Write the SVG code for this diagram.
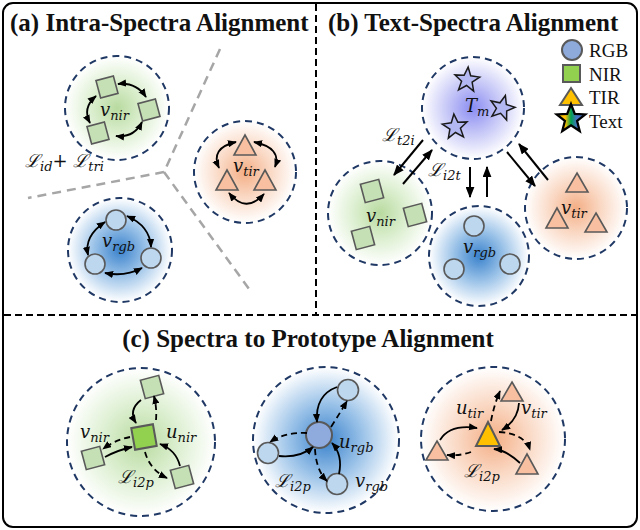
<svg xmlns="http://www.w3.org/2000/svg" width="640" height="530" viewBox="0 0 640 530">
<defs>
<style>
.title{font-family:"Liberation Serif","Times New Roman",serif;font-weight:bold;font-size:25px;fill:#111}
.leg{font-family:"Liberation Serif","Times New Roman",serif;font-size:19px;fill:#111}
.m{font-family:"DejaVu Serif","Liberation Serif",serif;font-style:italic;font-size:18px;fill:#111}
.s{font-size:13px}
.ring{stroke:#1f3864;stroke-width:2;stroke-dasharray:7,5}
.sq{fill:#c5e0b4;stroke:#595959;stroke-width:1.6}
.tri{fill:#f8c0a0;stroke:#595959;stroke-width:1.6;stroke-linejoin:miter}
.cir{fill:#bdd7ee;stroke:#595959;stroke-width:1.6}
.star{fill:#b4b8f2;stroke:#1a1a1a;stroke-width:1.5;stroke-linejoin:miter}
.arc{fill:none;stroke:#000;stroke-width:1.8;marker-start:url(#ah);marker-end:url(#ah)}
.ar{fill:none;stroke:#000;stroke-width:2;marker-end:url(#ah2)}
.cs{fill:none;stroke:#000;stroke-width:1.8;marker-end:url(#ah)}
.cd{fill:none;stroke:#000;stroke-width:1.8;stroke-dasharray:6,4;marker-end:url(#ah)}
.div{stroke:#000;stroke-width:2;stroke-dasharray:7,4;fill:none}
.gray{stroke:#a6a6a6;stroke-width:2.5;stroke-dasharray:9,6;fill:none}
</style>
<marker id="ah" viewBox="0 0 10 8" refX="9" refY="4" markerWidth="9" markerHeight="7.5" markerUnits="userSpaceOnUse" orient="auto-start-reverse"><path d="M0,0 L10,4 L0,8 z" fill="#000"/></marker>
<marker id="ah2" viewBox="0 0 10 8" refX="9" refY="4" markerWidth="11" markerHeight="9" markerUnits="userSpaceOnUse" orient="auto"><path d="M0,0 L10,4 L0,8 z" fill="#000"/></marker>
<radialGradient id="gG"><stop offset="0" stop-color="#b8da9f"/><stop offset="0.5" stop-color="#dcefd0"/><stop offset="1" stop-color="#ffffff"/></radialGradient>
<radialGradient id="gO"><stop offset="0" stop-color="#f4ae85"/><stop offset="0.5" stop-color="#fad9c5"/><stop offset="1" stop-color="#ffffff"/></radialGradient>
<radialGradient id="gB"><stop offset="0" stop-color="#3a82cc"/><stop offset="0.5" stop-color="#9ac2e8"/><stop offset="1" stop-color="#ffffff"/></radialGradient>
<radialGradient id="gP"><stop offset="0" stop-color="#8a8cf2"/><stop offset="0.5" stop-color="#c6c7f7"/><stop offset="1" stop-color="#ffffff"/></radialGradient>
<linearGradient id="gStar" x1="0" y1="0" x2="1" y2="0"><stop offset="0.3" stop-color="#ffc000"/><stop offset="0.5" stop-color="#00a050"/><stop offset="0.7" stop-color="#4472c4"/></linearGradient>
<path id="starShape" d="M0,-13 L3.3,-4.5 L12.4,-4 L5.3,1.7 L7.6,10.5 L0,5.5 L-7.6,10.5 L-5.3,1.7 L-12.4,-4 L-3.3,-4.5 z"/>
</defs>

<rect x="3" y="3" width="634" height="524" rx="10" fill="#fff" stroke="#000" stroke-width="2"/>
<g id="dividers">
<line class="div" x1="316" y1="4" x2="316" y2="315"/>
<line class="div" x1="4" y1="315" x2="636" y2="315"/>
</g>

<text class="title" x="10" y="31">(a) Intra-Spectra Alignment</text>
<text class="title" x="328" y="31">(b) Text-Spectra Alignment</text>
<text class="title" x="308" y="347" text-anchor="middle">(c) Spectra to Prototype Alignment</text>

<!-- Panel (a) -->
<g id="a-dividers">
<path class="gray" d="M220,49 L164,172 L28,198 M164,172 L252,293"/>
</g>
<g id="a-nir">
<circle class="ring" cx="117" cy="108" r="52" fill="url(#gG)"/>
<rect class="sq" x="-9" y="-9" width="18" height="18" transform="translate(107,87) rotate(-15)"/>
<rect class="sq" x="-9" y="-9" width="18" height="18" transform="translate(149,110) rotate(-15)"/>
<rect class="sq" x="-9" y="-9" width="18" height="18" transform="translate(98,133) rotate(-15)"/>
<text class="m" x="100" y="116">v<tspan class="s" dy="4">nir</tspan></text>
</g>
<g id="a-tir">
<circle class="ring" cx="245" cy="172" r="51" fill="url(#gO)"/>
<polygon class="tri" points="245,135 256,155 234,155"/>
<polygon class="tri" points="227,170 238,190 216,190"/>
<polygon class="tri" points="265,170 276,190 254,190"/>
<text class="m" x="233" y="172">v<tspan class="s" dy="4">tir</tspan></text>
</g>
<g id="a-rgb">
<circle class="ring" cx="120" cy="250" r="52" fill="url(#gB)"/>
<circle class="cir" cx="116" cy="220" r="10"/>
<circle class="cir" cx="95" cy="264" r="10"/>
<circle class="cir" cx="151" cy="258" r="10"/>
<text class="m" x="102" y="247">v<tspan class="s" dy="4">rgb</tspan></text>
</g>
<g id="a-loss">
<text class="m" x="25" y="167">ℒ<tspan class="s" dy="4">id</tspan><tspan dy="-4">+ ℒ</tspan><tspan class="s" dy="4">tri</tspan></text>
</g>
<g id="a-connectors">
<path class="arc" d="M118,84 Q136,82 146,97"/>
<path class="arc" d="M142,122 Q134,138 116,136"/>
<path class="arc" d="M90,123 Q82,108 96,96"/>
<path class="arc" d="M236,142 Q210,148 219,168"/>
<path class="arc" d="M254,142 Q282,148 275,167"/>
<path class="arc" d="M229,193 Q246,214 264,194"/>
<path class="arc" d="M105,222 Q84,236 88,255"/>
<path class="arc" d="M127,216 Q150,226 151,247"/>
<path class="arc" d="M105,273 Q125,277 142,268"/>
</g>

<!-- Panel (b) -->
<g id="b-legend">
<circle cx="572" cy="50" r="10" fill="#8eaadb" stroke="#595959" stroke-width="2"/>
<text class="leg" x="589" y="57">RGB</text>
<rect x="563" y="65" width="17" height="17" fill="#92d050" stroke="#595959" stroke-width="2"/>
<text class="leg" x="589" y="81">NIR</text>
<polygon points="571,88 582,105 560,105" fill="#ffc000" stroke="#595959" stroke-width="2"/>
<text class="leg" x="589" y="104">TIR</text>
<use href="#starShape" transform="translate(571,119) scale(1.15)" fill="url(#gStar)" stroke="#000" stroke-width="2"/>
<text class="leg" x="589" y="128">Text</text>
</g>
<g id="b-text">
<circle class="ring" cx="473" cy="108" r="51" fill="url(#gP)"/>
<use href="#starShape" class="star" transform="translate(467,80) rotate(5)"/>
<use href="#starShape" class="star" transform="translate(502,108) rotate(15)"/>
<use href="#starShape" class="star" transform="translate(455,127) rotate(-5)"/>
<text class="m" x="465" y="112">T<tspan class="s" dy="4">m</tspan></text>
</g>
<g id="b-nir">
<circle class="ring" cx="380" cy="213" r="52" fill="url(#gG)"/>
<rect class="sq" x="-9.5" y="-9.5" width="19" height="19" transform="translate(372,191) rotate(-15)"/>
<rect class="sq" x="-9.5" y="-9.5" width="19" height="19" transform="translate(415,215) rotate(-15)"/>
<rect class="sq" x="-9.5" y="-9.5" width="19" height="19" transform="translate(363,238) rotate(-15)"/>
<text class="m" x="366" y="222">v<tspan class="s" dy="4">nir</tspan></text>
</g>
<g id="b-rgb">
<circle class="ring" cx="479" cy="256" r="50" fill="url(#gB)"/>
<circle class="cir" cx="474" cy="226" r="10"/>
<circle class="cir" cx="454" cy="269" r="10"/>
<circle class="cir" cx="510" cy="264" r="10"/>
<text class="m" x="463" y="253">v<tspan class="s" dy="4">rgb</tspan></text>
</g>
<g id="b-tir">
<circle class="ring" cx="576" cy="208" r="51" fill="url(#gO)"/>
<polygon class="tri" points="577,173 588,192 566,192"/>
<polygon class="tri" points="557,208 568,228 546,228"/>
<polygon class="tri" points="596,213 607,232 585,232"/>
<text class="m" x="561" y="214">v<tspan class="s" dy="4">tir</tspan></text>
</g>
<g id="b-connectors">
<path class="ar" d="M423,140 L394,175"/>
<path class="ar" d="M403,184 L432,150"/>
<path class="ar" d="M470,167 L470,197"/>
<path class="ar" d="M487,197 L487,167"/>
<path class="ar" d="M507,152 L535,186"/>
<path class="ar" d="M548,180 L519,144"/>
<text class="m" x="382" y="141">ℒ<tspan class="s" dy="4">t2i</tspan></text>
<text class="m" x="428" y="176">ℒ<tspan class="s" dy="4">i2t</tspan></text>
</g>

<!-- Panel (c) -->
<g id="c-nir">
<circle class="ring" cx="141" cy="442" r="74" fill="url(#gG)"/>
<rect class="sq" x="-9.5" y="-9.5" width="19" height="19" transform="translate(152,387) rotate(-15)"/>
<rect class="sq" x="-9.5" y="-9.5" width="19" height="19" transform="translate(93,458) rotate(-15)"/>
<rect class="sq" x="-9.5" y="-9.5" width="19" height="19" transform="translate(182,477) rotate(-15)"/>
<rect x="-11" y="-11" width="22" height="22" transform="translate(144,437) rotate(-10)" fill="#92d050" stroke="#595959" stroke-width="2"/>
<text class="m" x="80" y="438">v<tspan class="s" dy="4">nir</tspan></text>
<text class="m" x="166" y="438">u<tspan class="s" dy="4">nir</tspan></text>
<text class="m" x="118" y="483">ℒ<tspan class="s" dy="4">i2p</tspan></text>
</g>
<g id="c-rgb">
<circle class="ring" cx="326" cy="440" r="73" fill="url(#gB)"/>
<circle class="cir" cx="348" cy="390" r="10.5"/>
<circle class="cir" cx="268" cy="453" r="10.5"/>
<circle class="cir" cx="337" cy="484" r="10.5"/>
<circle cx="319" cy="435" r="13" fill="#8faadc" stroke="#595959" stroke-width="2"/>
<text class="m" x="339" y="448">u<tspan class="s" dy="4">rgb</tspan></text>
<text class="m" x="275" y="487">ℒ<tspan class="s" dy="4">i2p</tspan></text>
<text class="m" x="355" y="487">v<tspan class="s" dy="4">rgb</tspan></text>
</g>
<g id="c-tir">
<circle class="ring" cx="493" cy="439" r="72" fill="url(#gO)"/>
<polygon class="tri" points="512,382 523,401 501,401"/>
<polygon class="tri" points="437,441 448,460 426,460"/>
<polygon class="tri" points="527,454 538,474 516,474"/>
<polygon points="488,422 500,446 476,446" fill="#ffc000" stroke="#595959" stroke-width="2"/>
<text class="m" x="456" y="414">u<tspan class="s" dy="4">tir</tspan></text>
<text class="m" x="521" y="414">v<tspan class="s" dy="4">tir</tspan></text>
<text class="m" x="464" y="477">ℒ<tspan class="s" dy="4">i2p</tspan></text>
</g>
<g id="c-connectors">
<path class="cs" d="M141,400 Q128,410 136,423"/>
<path class="cd" d="M156,420 Q157,408 154,396"/>
<path class="cd" d="M130,437 Q115,440 103,449"/>
<path class="cs" d="M105,457 Q118,450 132,447"/>
<path class="cs" d="M180,466 Q176,450 160,444"/>
<path class="cd" d="M145,452 Q150,470 167,478"/>

<path class="cs" d="M337,387 Q315,395 317,422"/>
<path class="cd" d="M331,427 Q340,413 347,401"/>
<path class="cd" d="M307,433 Q285,432 270,442"/>
<path class="cs" d="M279,456 Q300,458 313,447"/>
<path class="cs" d="M339,474 Q343,455 332,443"/>
<path class="cd" d="M315,449 Q316,470 327,481"/>

<path class="cd" d="M491,421 Q494,405 500,391"/>
<path class="cs" d="M519,403 Q518,420 502,430"/>
<path class="cs" d="M440,440 Q450,424 477,428"/>
<path class="cd" d="M471,452 Q460,456 447,455"/>
<path class="cd" d="M499,432 Q525,434 530,450"/>
<path class="cs" d="M520,463 Q506,450 494,449"/>
</g>
</svg>
